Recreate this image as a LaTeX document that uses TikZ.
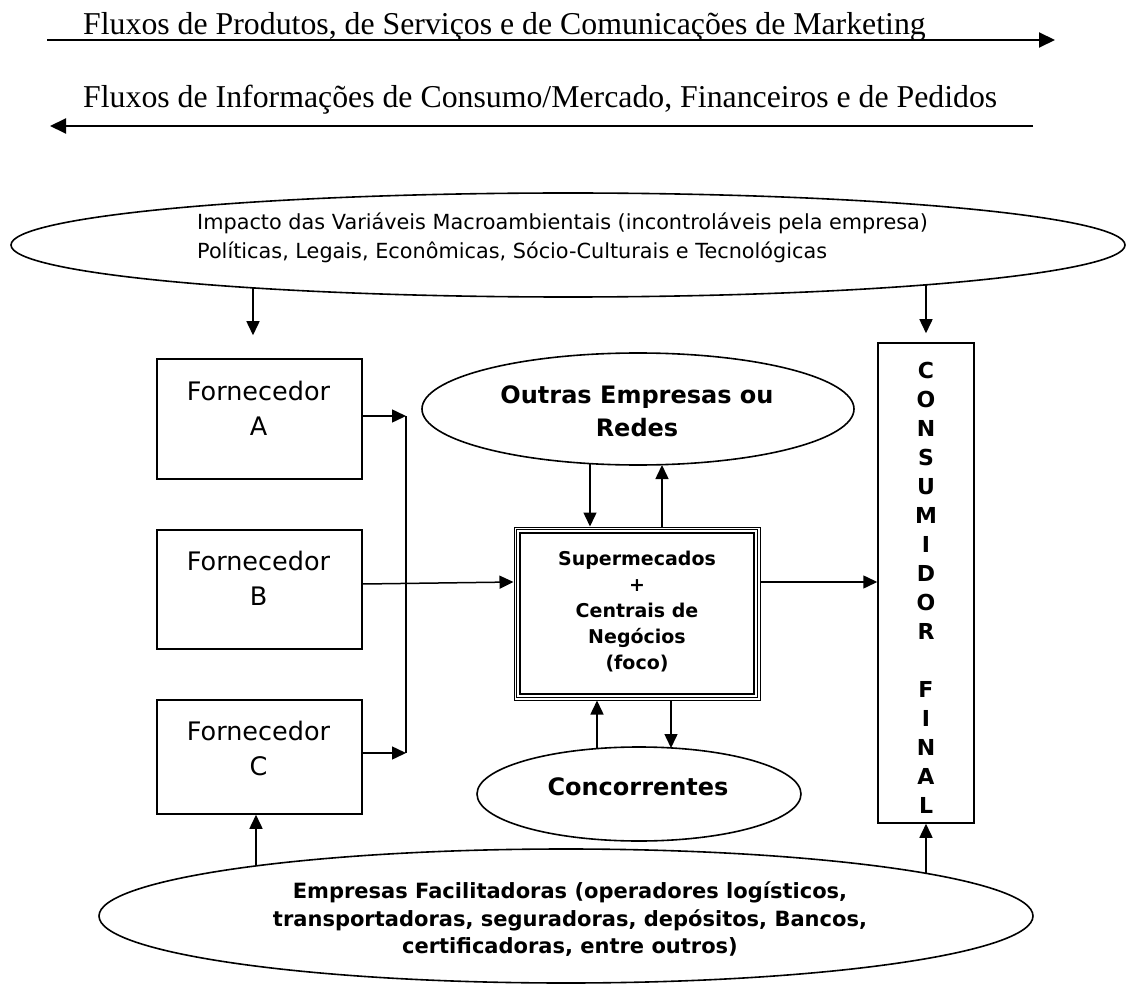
\documentclass[tikz,border=0pt]{standalone}
\usepackage{fontspec}
\setmainfont{Liberation Serif}
\newfontfamily\dv{DejaVu Sans}
\usetikzlibrary{arrows.meta,shapes.geometric}
\begin{document}
\begin{tikzpicture}[x=1pt,y=-1pt,
  conn/.style={line width=1.5pt,-{Triangle[length=14pt,width=13pt]}},
  plain/.style={line width=1.5pt},
  flux/.style={line width=2pt,-{Triangle[length=16pt,width=15pt]}},
  fbox/.style={draw,line width=1.5pt,rectangle,inner sep=0pt},
  oval/.style={draw,line width=1.6pt,ellipse,inner sep=0pt},
  lbl/.style={inner sep=0pt,align=center},
  fluxtext/.style={inner sep=0pt,anchor=base west,font=\rmfamily\fontsize{31.8}{38}\selectfont},
]
\fill[white] (0,0) rectangle (1130,984);
\useasboundingbox (0,0) rectangle (1130,984);

% flux arrows
\node[fluxtext] (flux1) at (83,35) {Fluxos de Produtos, de Serviços e de Comunicações de Marketing};
\node[fluxtext] (flux2) at (83,108) {Fluxos de Informações de Consumo/Mercado, Financeiros e de Pedidos};
\coordinate (f1s) at (47,40);
\coordinate (f1e) at (1055,40);
\coordinate (f2s) at (1033,126);
\coordinate (f2e) at (50,126);
\draw[flux] (f1s) -- (f1e);
\draw[flux] (f2s) -- (f2e);

% macro environment
\node[oval,minimum width=1114pt,minimum height=104pt] (macro) at (568,245) {};
\node[lbl,align=left,anchor=north west,font=\dv\fontsize{20.8}{29}\selectfont] (macrotext) at (197,212.6)
  {Impacto das Variáveis Macroambientais (incontroláveis pela empresa)\\Políticas, Legais, Econômicas, Sócio-Culturais e Tecnológicas};

% suppliers
\node[fbox,minimum width=205pt,minimum height=120pt] (fA) at (259.5,419) {};
\node[fbox,minimum width=205pt,minimum height=119pt] (fB) at (259.5,589.5) {};
\node[fbox,minimum width=205pt,minimum height=114pt] (fC) at (259.5,757) {};
\tikzset{ftext/.style={lbl,anchor=north,font=\dv\fontsize{25.5}{35}\selectfont}}
\node[ftext] (tA) at (258.5,380.5) {Fornecedor\\A};
\node[ftext] (tB) at (258.5,550.5) {Fornecedor\\B};
\node[ftext] (tC) at (258.5,720.5) {Fornecedor\\C};

% focus box
\node[draw,line width=1pt,rectangle,inner sep=0pt,minimum width=246pt,minimum height=173pt] (focus) at (637,613.5) {};
\draw[line width=1pt] ([shift={(2.8,2.8)}]focus.north west) rectangle ([shift={(-2.8,-2.8)}]focus.south east);
\draw[line width=2pt] ([shift={(6.5,6.5)}]focus.north west) rectangle ([shift={(-6.5,-6.5)}]focus.south east);
\node[lbl,anchor=north,font=\dv\bfseries\fontsize{19}{26}\selectfont] (focustext) at (637,550.6)
  {Supermecados\\+\\Centrais de\\Negócios\\(foco)};

% other companies
\node[oval,minimum width=432pt,minimum height=112pt] (outras) at (638,409) {};
\node[lbl,anchor=north,font=\dv\bfseries\fontsize{24}{33}\selectfont] (outrastext) at (637,385.8) {Outras Empresas ou\\Redes};

% competitors
\node[oval,minimum width=324pt,minimum height=94pt] (conc) at (639,794) {};
\node[lbl,anchor=base,font=\dv\bfseries\fontsize{24}{30}\selectfont] (conctext) at (638,795) {Concorrentes};

% consumer
\node[fbox,minimum width=96pt,minimum height=480pt] (cons) at (926,583) {};
\node[lbl,anchor=north,font=\dv\bfseries\fontsize{22}{29.03}\selectfont] (constext) at (926,362)
  {C\\O\\N\\S\\U\\M\\I\\D\\O\\R\\[29.03pt]F\\I\\N\\A\\L};

% facilitators
\node[oval,minimum width=934pt,minimum height=134pt] (facil) at (566,916) {};
\node[lbl,anchor=north,font=\dv\bfseries\fontsize{21}{27.5}\selectfont] (faciltext) at (570,881.5)
  {Empresas Facilitadoras (operadores logísticos,\\transportadoras, seguradoras, depósitos, Bancos,\\certificadoras, entre outros)};

% connectors: macro
\coordinate (m1) at (253,288);
\coordinate (m2) at (926,285);
\draw[conn,shorten >=23pt] (m1) -- (m1 |- fA.north);
\draw[conn,shorten >=9pt] (m2) -- (cons.north);

% suppliers to focus
\coordinate (jA) at (406,416);
\coordinate (jC) at (406,753);
\coordinate (yB1) at (0,584);
\coordinate (yB2) at (0,582);
\draw[conn] (fA.east |- jA) -- (jA);
\draw[plain] (jA) -- (jC);
\draw[conn] (fC.east |- jC) -- (jC);
\draw[conn] (fB.east |- yB1) -- (focus.west |- yB2);

% outras <-> focus
\coordinate (o1) at (590,463.6);
\coordinate (o2) at (662,465);
\draw[conn] (o1) -- (o1 |- focus.north);
\draw[conn] (o2 |- focus.north) -- (o2);

% focus <-> concorrentes
\coordinate (c1) at (597,748.6);
\coordinate (c2) at (671,748);
\draw[conn] (c1) -- (c1 |- focus.south);
\draw[conn] (c2 |- focus.south) -- (c2);

% focus -> consumer
\coordinate (yF) at (0,582);
\draw[conn] (focus.east |- yF) -- (cons.west |- yF);

% facilitators
\coordinate (b1) at (256,865.5);
\coordinate (b2) at (926,873);
\draw[conn] (b1) -- (b1 |- fC.south);
\draw[conn] (b2) -- (cons.south);
\end{tikzpicture}
\end{document}
